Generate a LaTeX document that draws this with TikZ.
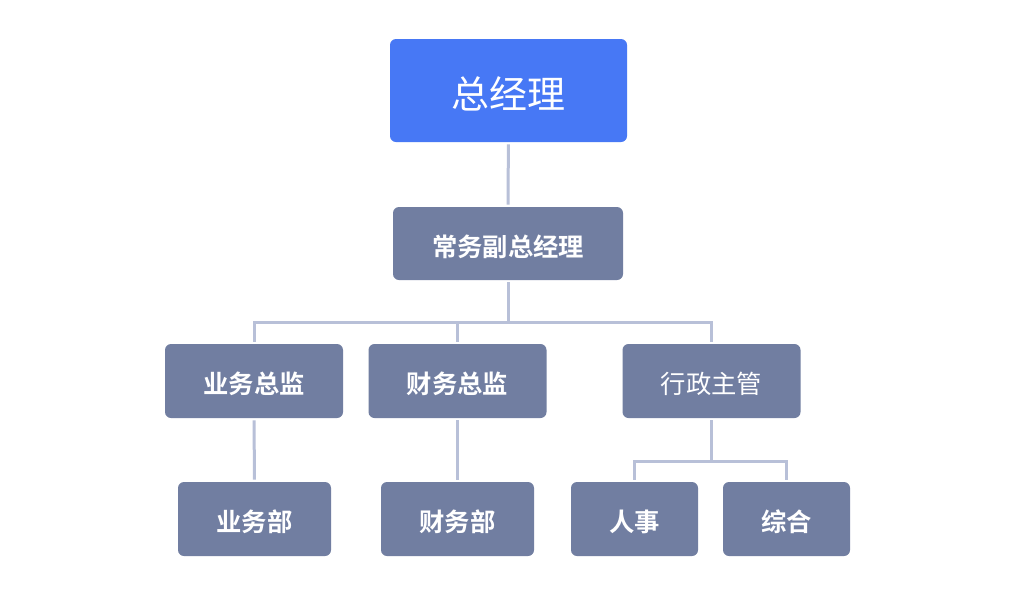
\documentclass[tikz,border=0pt]{standalone}
\usepackage{fontspec}
\newfontfamily\cjk{Noto Sans CJK SC}
\newfontfamily\cjkb{Noto Sans CJK SC Bold}
\definecolor{topblue}{HTML}{4778F5}
\definecolor{boxgray}{HTML}{717EA1}
\definecolor{linec}{HTML}{B8C0D8}
\newcommand{\lowtxt}[1]{\raisebox{-2.25pt}[\height][\depth]{#1}}
\begin{document}
\begin{tikzpicture}[x=0.75pt,y=-0.75pt,
  box/.style={fill=boxgray,rounded corners=4.5pt,inner sep=0pt,text=white,font=\cjkb\fontsize{19}{19}\selectfont,minimum height=55.5pt},
  conn/.style={draw=linec,line width=2.25pt,shorten <=1.5pt,shorten >=1.5pt}]
\useasboundingbox[fill=white] (0,0) rectangle (1026,597);
\node[box,fill=topblue,minimum width=177.75pt,minimum height=77.25pt,font=\cjk\fontsize{28.5}{28.5}\selectfont] (gm) at (508.5,90.5) {\lowtxt{总经理}};
\node[box,minimum width=172.5pt,minimum height=54.75pt] (cw) at (508,243.5) {\lowtxt{常务副总经理}};
\node[box,minimum width=133.5pt] (yz) at (254,381) {\lowtxt{业务总监}};
\node[box,minimum width=133.5pt] (cz) at (457.5,381) {\lowtxt{财务总监}};
\node[box,minimum width=133.5pt,font=\cjk\fontsize{19}{19}\selectfont] (xz) at (711.5,381) {\lowtxt{行政主管}};
\node[box,minimum width=114.75pt] (yb) at (254.5,519) {\lowtxt{业务部}};
\node[box,minimum width=114.75pt] (cb) at (457.5,519) {\lowtxt{财务部}};
\node[box,minimum width=95.25pt] (rs) at (634.5,519) {\lowtxt{人事}};
\node[box,minimum width=95.25pt] (zh) at (786.5,519) {\lowtxt{综合}};
\coordinate (b1) at (508,322.5);
\coordinate (b2) at (711.5,461);
\draw[conn] (gm) -- (cw);
\draw[conn,shorten >=0pt] (cw) -- (b1);
\draw[conn,shorten <=0pt] (b1) -| (yz.north);
\draw[conn,shorten <=0pt] (b1) -| (xz.north);
\draw[conn,shorten <=0pt] (cz.north |- b1) -- (cz.north);
\draw[conn] (yz) -- (yb);
\draw[conn] (cz) -- (cb);
\draw[conn,shorten >=0pt] (xz) -- (b2);
\draw[conn,shorten <=0pt] (b2) -| (rs.north);
\draw[conn,shorten <=0pt] (b2) -| (zh.north);
\end{tikzpicture}
\end{document}
